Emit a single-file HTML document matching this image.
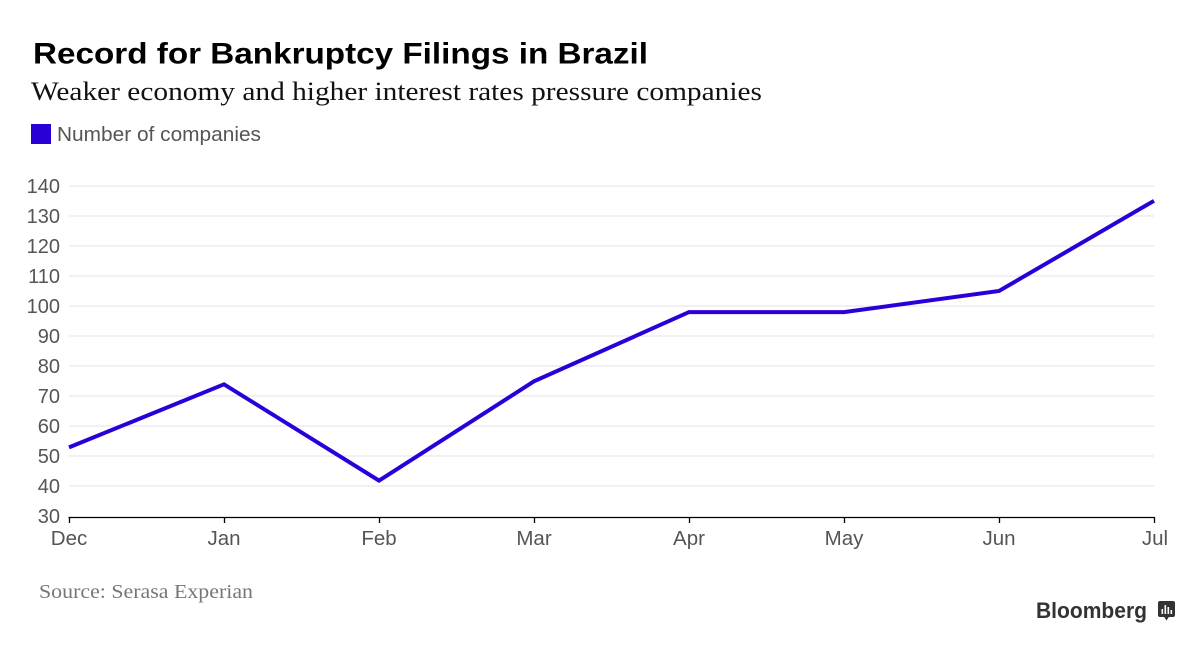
<!DOCTYPE html>
<html>
<head>
<meta charset="utf-8">
<style>
  html, body { margin:0; padding:0; background:#fff; }
  svg { display:block; }
</style>
</head>
<body>
<svg width="1200" height="649" viewBox="0 0 1200 649" xmlns="http://www.w3.org/2000/svg">
  <rect width="1200" height="649" fill="#fff"/>
  <!-- Title -->
  <text x="33" y="63.5" font-family="Liberation Sans, sans-serif" font-weight="bold" font-size="30" fill="#000" textLength="615" lengthAdjust="spacingAndGlyphs">Record for Bankruptcy Filings in Brazil</text>
  <!-- Subtitle -->
  <text x="31" y="100" font-family="Liberation Serif, serif" font-size="26" fill="#111" textLength="731" lengthAdjust="spacingAndGlyphs">Weaker economy and higher interest rates pressure companies</text>
  <!-- Legend -->
  <rect x="31" y="124" width="20" height="20" fill="#2a00d8"/>
  <text x="57" y="141" font-family="Liberation Sans, sans-serif" font-size="20" fill="#555" textLength="204" lengthAdjust="spacingAndGlyphs">Number of companies</text>

  <!-- Grid lines -->
  <g stroke="#e3e3ea" stroke-width="1">
    <line x1="69" x2="1154" y1="186" y2="186"/>
    <line x1="69" x2="1154" y1="216" y2="216"/>
    <line x1="69" x2="1154" y1="246" y2="246"/>
    <line x1="69" x2="1154" y1="276" y2="276"/>
    <line x1="69" x2="1154" y1="306" y2="306"/>
    <line x1="69" x2="1154" y1="336" y2="336"/>
    <line x1="69" x2="1154" y1="366" y2="366"/>
    <line x1="69" x2="1154" y1="396" y2="396"/>
    <line x1="69" x2="1154" y1="426" y2="426"/>
    <line x1="69" x2="1154" y1="456" y2="456"/>
    <line x1="69" x2="1154" y1="486" y2="486"/>
  </g>

  <!-- Y labels -->
  <g font-family="Liberation Sans, sans-serif" font-size="20" fill="#555" text-anchor="end">
    <text x="60" y="193">140</text>
    <text x="60" y="223">130</text>
    <text x="60" y="253">120</text>
    <text x="60" y="283">110</text>
    <text x="60" y="313">100</text>
    <text x="60" y="343">90</text>
    <text x="60" y="373">80</text>
    <text x="60" y="403">70</text>
    <text x="60" y="433">60</text>
    <text x="60" y="463">50</text>
    <text x="60" y="493">40</text>
    <text x="60" y="523">30</text>
  </g>

  <!-- X axis -->
  <g stroke="#000" stroke-width="1.3">
    <line x1="68.5" x2="1154.5" y1="517.5" y2="517.5"/>
    <line x1="69.5" x2="69.5" y1="517" y2="523"/>
    <line x1="224.5" x2="224.5" y1="517" y2="523"/>
    <line x1="379.5" x2="379.5" y1="517" y2="523"/>
    <line x1="534.5" x2="534.5" y1="517" y2="523"/>
    <line x1="689.5" x2="689.5" y1="517" y2="523"/>
    <line x1="844.5" x2="844.5" y1="517" y2="523"/>
    <line x1="999.5" x2="999.5" y1="517" y2="523"/>
    <line x1="1154.5" x2="1154.5" y1="517" y2="523"/>
  </g>

  <!-- X labels -->
  <g font-family="Liberation Sans, sans-serif" font-size="20.5" fill="#555" text-anchor="middle">
    <text x="69" y="545">Dec</text>
    <text x="224" y="545">Jan</text>
    <text x="379" y="545">Feb</text>
    <text x="534" y="545">Mar</text>
    <text x="689" y="545">Apr</text>
    <text x="844" y="545">May</text>
    <text x="999" y="545">Jun</text>
    <text x="1155" y="545">Jul</text>
  </g>

  <!-- Series -->
  <polyline fill="none" stroke="#2a00d8" stroke-width="4" stroke-linejoin="miter"
    points="69,447.4 224,384.3 379,480.6 534,381.3 689,312.1 844,312.1 999,291.0 1154,200.8"/>

  <!-- Source -->
  <text x="39" y="598" font-family="Liberation Serif, serif" font-size="20" fill="#777" textLength="214" lengthAdjust="spacingAndGlyphs">Source: Serasa Experian</text>

  <!-- Bloomberg logo -->
  <text x="1036" y="618" font-family="Liberation Sans, sans-serif" font-weight="bold" font-size="22" fill="#333" textLength="111" lengthAdjust="spacingAndGlyphs">Bloomberg</text>
  <g>
    <rect x="1158" y="601" width="17" height="16" rx="2" fill="#333"/>
    <polygon points="1163.5,616 1169.5,616 1166.5,620.5" fill="#333"/>
    <rect x="1161.5" y="609" width="1.6" height="5" fill="#fff"/>
    <rect x="1164.5" y="605" width="1.6" height="9" fill="#fff"/>
    <rect x="1167.5" y="607" width="1.6" height="7" fill="#fff"/>
    <rect x="1170.5" y="610" width="1.6" height="4" fill="#fff"/>
  </g>
</svg>
</body>
</html>
